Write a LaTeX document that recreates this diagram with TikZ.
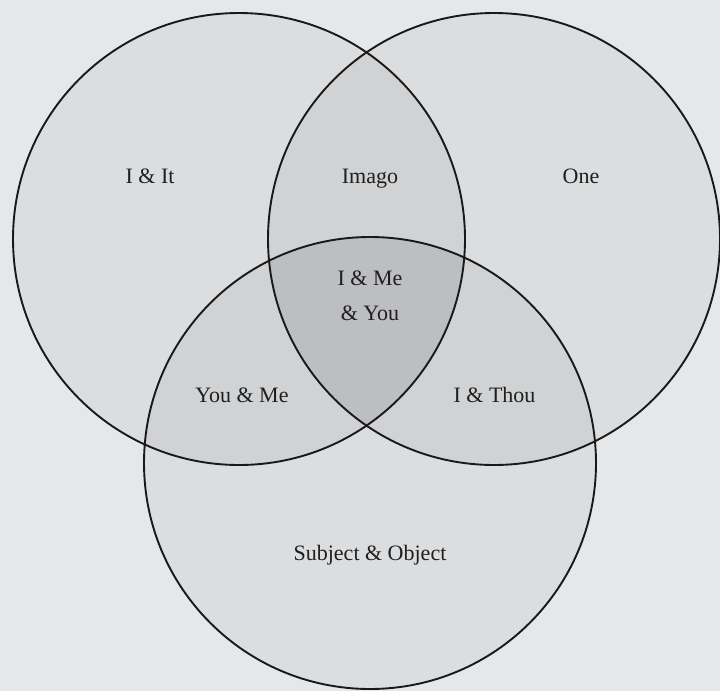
\documentclass[tikz,border=0pt]{standalone}
\usepackage{fontspec}
\setmainfont{Liberation Serif}
\usepackage{tikz}
\usetikzlibrary{positioning}
\definecolor{bgGray}{HTML}{E6E7E9}
\definecolor{oneGray}{HTML}{DCDDDF}
\definecolor{twoGray}{HTML}{D1D2D4}
\definecolor{threeGray}{HTML}{BDBEC1}
\begin{document}
\begin{tikzpicture}[x=1pt, y=-1pt,
  ring/.style={draw=black!90, line width=1.9pt},
  vtext/.style={anchor=base, align=center, text=black!88, font=\fontsize{22}{34.5}\selectfont}]
% Background
\fill[bgGray] (0,0) rectangle (720,691);
\useasboundingbox (0,0) rectangle (720,691);

% Centres
\coordinate (cL) at (239,239);
\coordinate (cR) at (494,239);
\coordinate (cB) at (370,463);

% Fills
\fill[oneGray] (cL) circle (226pt);
\fill[oneGray] (cR) circle (226pt);
\fill[oneGray] (cB) circle (226pt);
\begin{scope} \clip (cL) circle (226pt); \fill[twoGray] (cR) circle (226pt); \end{scope}
\begin{scope} \clip (cL) circle (226pt); \fill[twoGray] (cB) circle (226pt); \end{scope}
\begin{scope} \clip (cR) circle (226pt); \fill[twoGray] (cB) circle (226pt); \end{scope}
\begin{scope} \clip (cL) circle (226pt); \clip (cR) circle (226pt); \fill[threeGray] (cB) circle (226pt); \end{scope}

% Circles
\draw[ring] (cL) circle (226pt);
\draw[ring] (cR) circle (226pt);
\draw[ring] (cB) circle (226pt);

% Labels
\node[vtext] (itLbl) at (150,183) {I \& It};
\node[vtext] (imagoLbl) at (370,183) {Imago};
\node[vtext] (oneLbl) at (581,183) {One};
\node[vtext] (allLbl) at (370,320) {I \& Me\\\& You};
\node[vtext] (youMeLbl) at (242,402.5) {You \& Me};
\node[vtext] (thouLbl) at (494.5,402.5) {I \& Thou};
\node[vtext] (subjLbl) at (370,560) {Subject \& Object};
\end{tikzpicture}
\end{document}
